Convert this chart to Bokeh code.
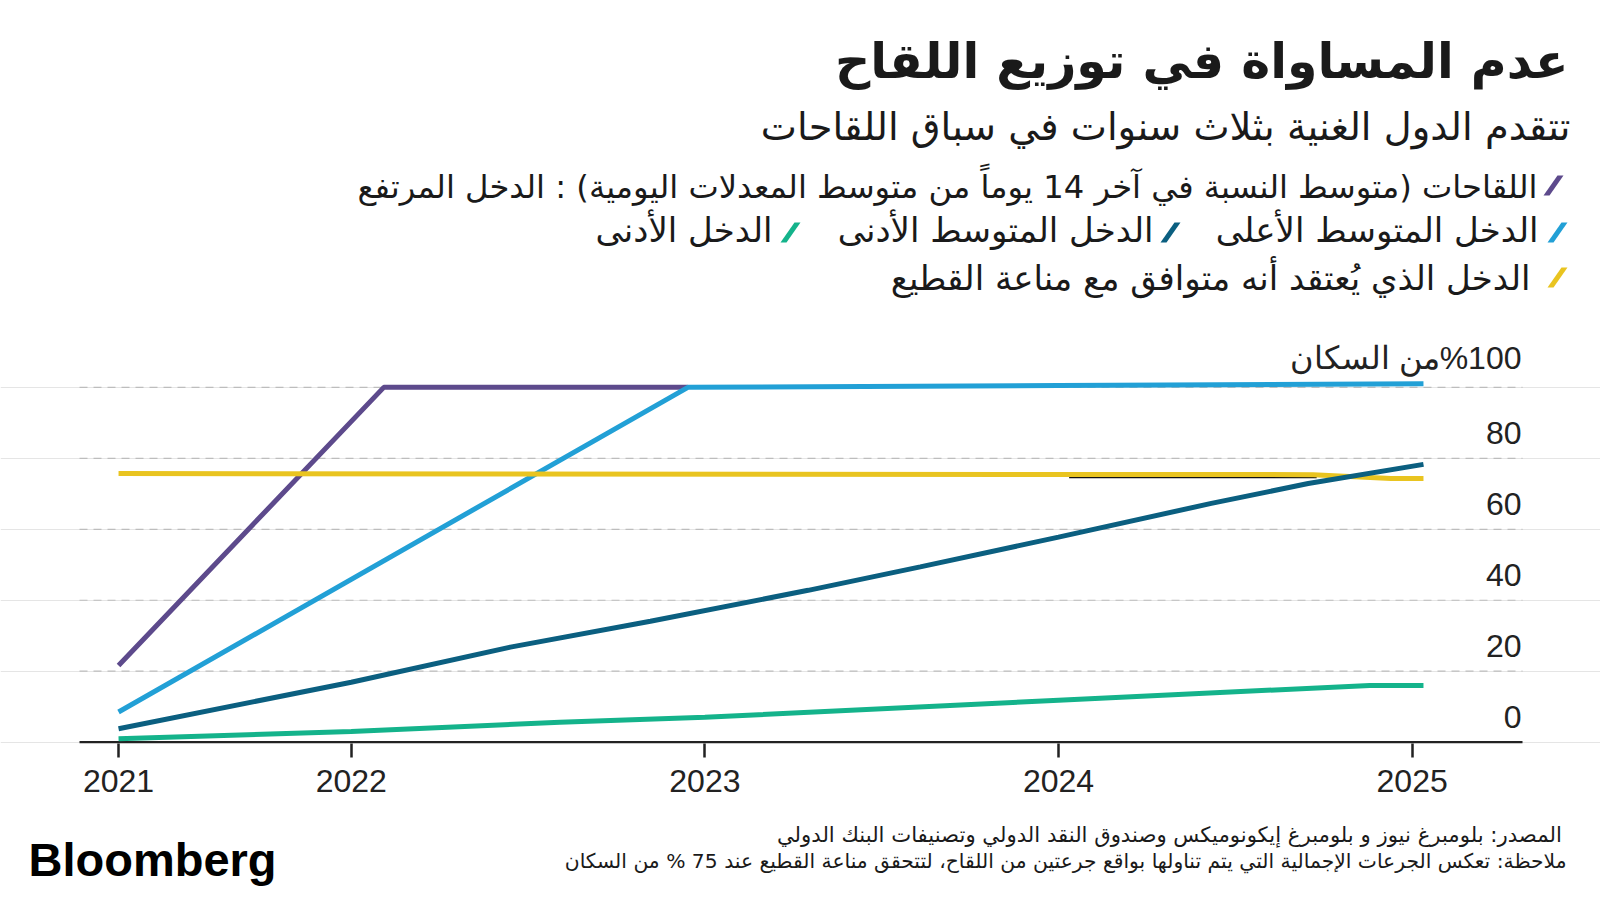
from bokeh.plotting import figure
from bokeh.layouts import column
from bokeh.models import Range1d, FixedTicker, NumeralTickFormatter
from bokeh.core.properties import value
from bokeh.embed import file_html
from bokeh.resources import INLINE

# ---------------- data (decimal years, % of population) ----------------
high_x = [2021.342, 2022.092, 2022.952]
high_y = [21.6, 100.0, 100.0]
upper_mid_x = [2021.342, 2022.952, 2024.0, 2025.032]
upper_mid_y = [8.5, 100.0, 100.5, 101.0]
lower_mid_x = [2021.342, 2022.0, 2022.45, 2022.846, 2023.292, 2023.609, 2024.0, 2024.432, 2024.706, 2025.032]
lower_mid_y = [3.8, 16.9, 26.8, 34.1, 42.8, 49.4, 57.8, 67.3, 72.9, 78.3]
low_x = [2021.342, 2022.0, 2022.59, 2023.0, 2024.0, 2024.88, 2025.032]
low_y = [1.0, 3.0, 5.6, 7.0, 11.8, 16.0, 16.0]
herd_x = [2021.342, 2024.72, 2024.94, 2025.032]
herd_y = [75.7, 75.4, 74.3, 74.3]
herd_edge_x = [2024.03, 2024.73]
herd_edge_y = [74.6, 74.6]

X_TICKS = [2021.342, 2022, 2023, 2024, 2025]
X_LABELS = ["2021", "2022", "2023", "2024", "2025"]
Y_TICKS = [0, 20, 40, 60, 80]
Y_LABELS = ["0", "20", "40", "60", "80"]
Y_TOP_TICK = [100]
Y_TOP_LABEL = ["\u200F%100من السكان"]
GRID_TICKS = [20, 40, 60, 80, 100]

TITLE = "عدم المساواة في توزيع اللقاح"
SUBTITLE = "تتقدم الدول الغنية بثلاث سنوات في سباق اللقاحات"
LEG_HIGH = "اللقاحات (متوسط النسبة في آخر 14 يوماً من متوسط المعدلات اليومية) : الدخل المرتفع"
LEG_UPPER = "الدخل المتوسط الأعلى"
LEG_LOWER = "الدخل المتوسط الأدنى"
LEG_LOW = "الدخل الأدنى"
LEG_HERD = "الدخل الذي يُعتقد أنه متوافق مع مناعة القطيع"
SOURCE = "المصدر: بلومبرغ  نيوز و بلومبرغ إيكونوميكس وصندوق النقد الدولي وتصنيفات البنك الدولي"
NOTE = "ملاحظة: تعكس الجرعات الإجمالية التي يتم تناولها بواقع جرعتين من اللقاح، لتتحقق مناعة القطيع عند 75 % من السكان"
LOGO = "Bloomberg"

PURPLE = "#5d4a8c"
LIGHT_BLUE = "#22a0d6"
DARK_TEAL = "#0b5f80"
GREEN = "#14b38b"
YELLOW = "#e9c420"
INK = "#1a1a1a"
AR_FONT = "DejaVu Sans"
NUM_FONT = "Liberation Sans"

# ---------------- layout (page pixels) ----------------
W = 1600
HEAD_H = 334          # header band: title + legend
CHART_H = 479         # chart: frame 334..743, axis below
FOOT_H = 87           # footer band
PLOT_L, PLOT_R = 79, 1522     # plot area (axis line / gridlines) in page px
AX_B = 70                     # room below the frame for the x axis
X0, X1 = 2021.2316, 2025.312  # data extent of the plot area
PX = (PLOT_R - PLOT_L) / (X1 - X0)
XR0 = X0 - PLOT_L / PX
XR1 = X1 + (W - PLOT_R) / PX


def blank(height, y_top):
    f = figure(width=W, height=height, x_range=Range1d(0, W), y_range=Range1d(y_top + height, y_top),
               output_backend="svg", toolbar_location=None, x_axis_location=None, y_axis_location=None,
               min_border=0, background_fill_color="white", border_fill_color="white")
    f.outline_line_color = None
    f.grid.visible = False
    return f


def htext(f, txt, X, Y, size, bold=False, align="right", font=AR_FONT, color=INK):
    f.text(x=[X], y=[Y], text=[txt], text_align=align, text_baseline="alphabetic",
           text_font=value(font), text_font_size=f"{size}px", text_color=color,
           text_font_style="bold" if bold else "normal")


def slash(f, X, Y, color):
    f.patch(x=[X, X + 6, X + 20, X + 14], y=[Y, Y, Y - 20, Y - 20], fill_color=color, line_color=None)


# ---------------- header ----------------
head = blank(HEAD_H, 0)
htext(head, TITLE, 1568, 61, 49, bold=True)
htext(head, SUBTITLE, 1570, 126, 38.4)
slash(head, 1543, 195, PURPLE)
htext(head, LEG_HIGH, 1537, 186, 32.2)
slash(head, 1547, 242, LIGHT_BLUE)
htext(head, LEG_UPPER, 1538, 229, 34)
slash(head, 1160, 242, DARK_TEAL)
htext(head, LEG_LOWER, 1153, 229, 34)
slash(head, 780, 242, GREEN)
htext(head, LEG_LOW, 772, 229, 34)
slash(head, 1547, 287, YELLOW)
htext(head, LEG_HERD, 1530, 277, 34)

# ---------------- chart ----------------
p = figure(width=W, height=CHART_H, x_range=Range1d(XR0, XR1), y_range=Range1d(-0.37, 114.9),
           output_backend="svg", toolbar_location=None, y_axis_location=None,
           min_border_left=0, min_border_right=0, min_border_top=0, min_border_bottom=AX_B,
           background_fill_color="white", border_fill_color="white")
p.outline_line_color = None
p.xgrid.visible = False

# dashed gridlines across the plot area
p.segment(x0=[X0] * len(GRID_TICKS), y0=GRID_TICKS, x1=[X1] * len(GRID_TICKS), y1=GRID_TICKS,
          line_color="#bdbdbd", line_width=1.2, line_dash="8 6")
# baseline at 0
p.segment(x0=[X0], y0=[0], x1=[X1], y1=[0], line_color="#222222", line_width=2.5)

xa = p.xaxis[0]
xa.ticker = FixedTicker(ticks=X_TICKS)
xa.formatter = NumeralTickFormatter(format="0")
xa.major_label_overrides = dict(zip(X_TICKS, X_LABELS))
xa.axis_line_color = None
xa.major_tick_line_color = "#222222"
xa.major_tick_line_width = 2.5
xa.major_tick_out = 14
xa.major_tick_in = 0
xa.minor_tick_line_color = None
xa.major_label_text_font = NUM_FONT
xa.major_label_text_font_size = "32px"
xa.major_label_text_color = "#222222"
xa.major_label_standoff = 12

LW = 5
p.line(high_x, high_y, line_color=PURPLE, line_width=LW)
p.line(upper_mid_x, upper_mid_y, line_color=LIGHT_BLUE, line_width=LW)
p.line(low_x, low_y, line_color=GREEN, line_width=LW)
p.line(herd_edge_x, herd_edge_y, line_color="#111111", line_width=1.3)
p.line(herd_x, herd_y, line_color=YELLOW, line_width=LW)
p.line(lower_mid_x, lower_mid_y, line_color=DARK_TEAL, line_width=LW)

p.text(x=[X1] * len(Y_TICKS), y=Y_TICKS, text=Y_LABELS, text_align="right", text_baseline="alphabetic",
       x_offset=-1, y_offset=-25, text_font=value(NUM_FONT), text_font_size="32px", text_color="#222222")
p.text(x=[X1], y=Y_TOP_TICK, text=Y_TOP_LABEL, text_align="right", text_baseline="alphabetic",
       x_offset=-1, y_offset=-29, text_font=value(NUM_FONT), text_font_size="32px", text_color="#222222")

# ---------------- footer ----------------
foot = blank(FOOT_H, HEAD_H + CHART_H)
htext(foot, SOURCE, 1568, 833.5, 21.2)
htext(foot, NOTE, 1566, 860, 20.3)
htext(foot, LOGO, 28, 859, 47, bold=True, align="left", font=NUM_FONT, color="#000000")

layout = column(head, p, foot, spacing=0)
open("out.html", "w").write(file_html(layout, INLINE))
